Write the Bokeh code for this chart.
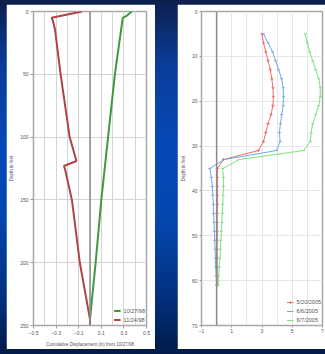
from bokeh.plotting import figure
from bokeh.models import Range1d, FixedTicker, Span, Row
from bokeh.embed import file_html
from bokeh.resources import INLINE

# ---------------- left chart data ----------------
x_ticks_left = [-0.5, -0.3, -0.1, 0.1, 0.3, 0.5]
x_grid_left = [-0.5, -0.4, -0.3, -0.2, -0.1, 0.0, 0.1, 0.2, 0.3, 0.4, 0.5]
y_ticks_left = [0, 50, 100, 150, 200, 250]

depth_102798 = [0, 3, 5, 50, 100, 150, 200, 245, 250]
disp_102798 = [0.37, 0.33, 0.29, 0.22, 0.16, 0.10, 0.05, 0.0, 0.0]

depth_112498 = [0, 5, 7, 14, 50, 100, 119, 123, 126, 150, 200, 245, 250]
disp_112498 = [-0.07, -0.34, -0.33, -0.31, -0.26, -0.18, -0.12, -0.23, -0.22, -0.16, -0.09, 0.0, 0.0]

# ---------------- right chart data ----------------
x_ticks_right = [-1, 1, 3, 5, 7]
x_grid_right = [-1, 0, 1, 2, 3, 4, 5, 6, 7]
y_ticks_right = [0, 10, 20, 30, 40, 50, 60, 70]

depth_2005 = [5, 7, 9, 11, 13, 15, 17, 19, 21, 23, 25, 27, 29, 31, 33, 35,
              37, 39, 41, 43, 45, 47, 49, 51, 53, 55, 57, 59, 61]
disp_0520 = [3.0, 3.1, 3.25, 3.4, 3.55, 3.65, 3.72, 3.75, 3.72, 3.6, 3.4, 3.25, 3.1, 2.75, 0.45, 0.05,
             0.05, 0.05, 0.05, 0.05, 0.04, 0.04, 0.04, 0.04, 0.03, 0.03, 0.03, 0.03, 0.03]
disp_0606 = [3.1, 3.4, 3.7, 3.9, 4.1, 4.3, 4.4, 4.42, 4.4, 4.3, 4.22, 4.15, 4.2, 3.95, 0.5, -0.45,
             -0.35, -0.28, -0.25, -0.22, -0.2, -0.17, -0.15, -0.13, -0.1, -0.08, -0.06, -0.03, -0.01]
disp_0607 = [5.85, 6.0, 6.15, 6.35, 6.55, 6.75, 6.85, 6.85, 6.75, 6.55, 6.35, 6.25, 6.2, 5.75, 1.5, 0.4,
             0.45, 0.45, 0.43, 0.4, 0.37, 0.34, 0.31, 0.28, 0.25, 0.21, 0.17, 0.13, 0.1]

FONT = "Liberation Sans"
TXT = "#555555"


def style(p, tick_out, label_standoff, grid_color):
    p.background_fill_color = "white"
    p.border_fill_color = "white"
    p.outline_line_color = "#a8a8a8"
    p.outline_line_width = 1.5
    for ax in p.axis:
        ax.axis_line_color = "#a8a8a8"
        ax.major_tick_line_color = "#999999"
        ax.major_tick_in = 0
        ax.major_tick_out = tick_out
        ax.minor_tick_line_color = None
        ax.major_label_standoff = label_standoff
        ax.major_label_text_font = FONT
        ax.major_label_text_font_size = "5px"
        ax.major_label_text_color = TXT
        ax.axis_label_text_font = FONT
        ax.axis_label_text_font_size = "4.5px"
        ax.axis_label_text_font_style = "normal"
        ax.axis_label_text_color = TXT
        ax.axis_label_standoff = 3
    p.grid.grid_line_color = grid_color
    p.grid.grid_line_width = 1


def style_legend(p):
    lg = p.legend[0]
    lg.location = "bottom_right"
    lg.label_text_font = FONT
    lg.label_text_font_size = "5.5px"
    lg.label_text_color = TXT
    lg.glyph_width = 7
    lg.glyph_height = 8
    lg.label_height = 8
    lg.label_standoff = 3
    lg.spacing = 1
    lg.padding = 1
    lg.margin = 1
    lg.border_line_color = None
    lg.background_fill_alpha = 0


# ---------------- left figure ----------------
p1 = figure(width=149, height=345, output_backend="svg", toolbar_location=None,
            x_range=Range1d(-0.5, 0.5), y_range=Range1d(250, 0),
            min_border_left=23, min_border_right=9, min_border_top=5, min_border_bottom=20)
p1.xaxis.ticker = FixedTicker(ticks=x_ticks_left)
p1.yaxis.ticker = FixedTicker(ticks=y_ticks_left)
p1.xgrid.ticker = FixedTicker(ticks=x_grid_left)
p1.ygrid.ticker = FixedTicker(ticks=y_ticks_left)
p1.xaxis.axis_label = "Cumulative Displacement (in) from 10/27/98"
p1.yaxis.axis_label = "Depth in feet"
style(p1, 3, 2, "#d4d4d4")
p1.xaxis.axis_label_standoff = 4
p1.add_layout(Span(location=0, dimension="height", line_color="#8a8a8a", line_width=1.5))
p1.line(disp_102798, depth_102798, line_color="#3e9a3e", line_width=2, legend_label="10/27/98")
p1.line(disp_112498, depth_112498, line_color="#b04444", line_width=2, legend_label="11/24/98")
style_legend(p1)
p1.legend[0].glyph_height = 9
p1.legend[0].label_height = 9
p1.legend[0].spacing = 0

# ---------------- right figure ----------------
p2 = figure(width=148, height=345, output_backend="svg", toolbar_location=None,
            x_range=Range1d(-1, 7), y_range=Range1d(70, 0),
            min_border_left=22, min_border_right=3, min_border_top=7, min_border_bottom=8)
p2.xaxis.ticker = FixedTicker(ticks=x_ticks_right)
p2.yaxis.ticker = FixedTicker(ticks=y_ticks_right)
p2.xgrid.ticker = FixedTicker(ticks=x_grid_right)
p2.ygrid.ticker = FixedTicker(ticks=y_ticks_right)
p2.yaxis.axis_label = "Depth in feet"
style(p2, 2, 1, "#e6e6e6")
p2.yaxis.major_label_standoff = 2
p2.add_layout(Span(location=0, dimension="height", line_color="#8a8a8a", line_width=1.5))

series = [(disp_0520, "#f07070", "cross", "5/20/2005"),
          (disp_0606, "#70a8e8", "dash", "6/6/2005"),
          (disp_0607, "#7ee07e", "dash", "6/7/2005")]
for vals, col, mk, lab in series:
    p2.line(vals, depth_2005, line_color=col, line_width=1, legend_label=lab)
    p2.scatter(vals, depth_2005, marker=mk, size=3, line_color=col, fill_color=col, legend_label=lab)
style_legend(p2)

p1.margin = (4, 0, 5, 6)
p2.margin = (4, 0, 5, 22)

layout = Row(children=[p1, p2], spacing=0,
             styles={"position": "fixed", "left": "0px", "top": "0px",
                     "width": "325px", "height": "354px",
                     "background": "linear-gradient(180deg, #0d1f4c 0%, #0a3c98 18%, #0549b8 42%, #0446ae 62%, #02307e 84%, #011a48 100%)"})

open("out.html", "w").write(file_html(layout, INLINE))
